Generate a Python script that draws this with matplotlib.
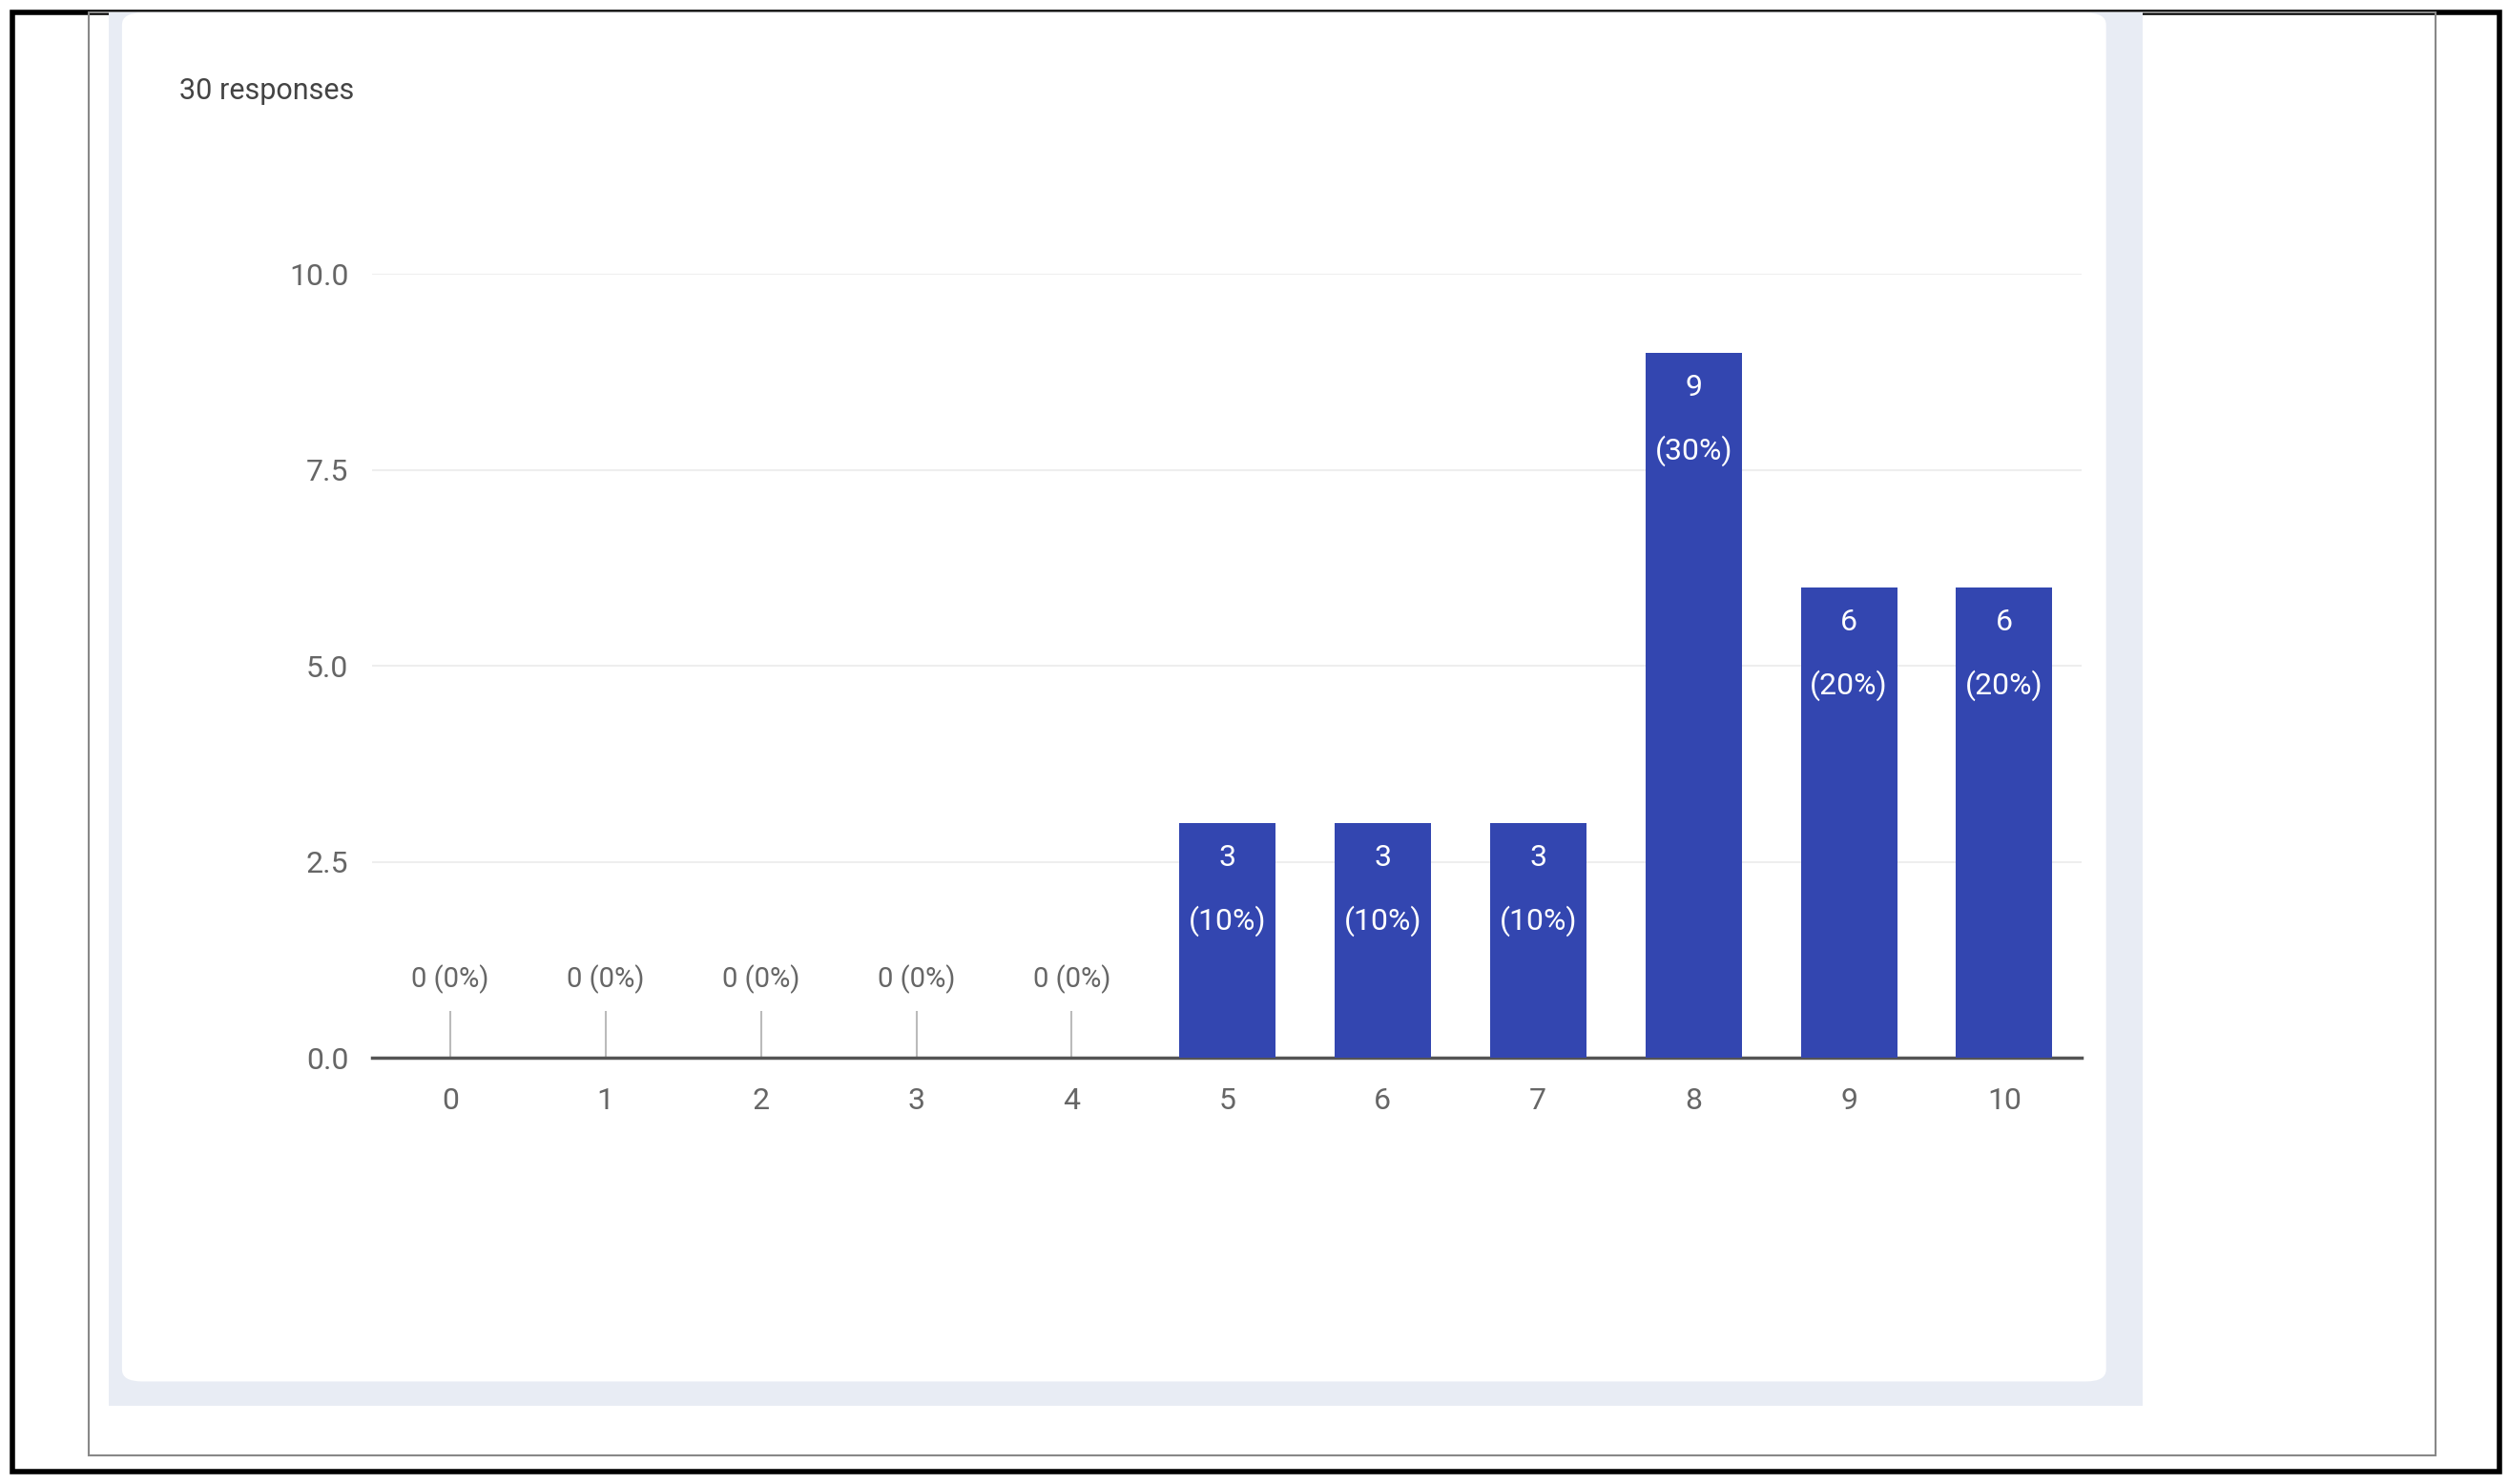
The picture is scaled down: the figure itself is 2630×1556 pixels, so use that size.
import matplotlib
matplotlib.use("Agg")
import matplotlib.pyplot as plt
from matplotlib.patches import Rectangle, FancyBboxPatch

# data
SCORES = [0, 1, 2, 3, 4, 5, 6, 7, 8, 9, 10]
COUNTS = [0, 0, 0, 0, 0, 3, 3, 3, 9, 6, 6]
TOTAL = 30
Y_TICKS = [0.0, 2.5, 5.0, 7.5, 10.0]

BAR_COLOR = "#3346b0"
TEXT_GRAY = "#666666"

plt.rcParams['font.family'] = ['Roboto', 'DejaVu Sans']

W, H = 1563.0, 926.0
fig = plt.figure(figsize=(26.3, 15.56), dpi=100)

def box(x0, y0, x1, y1, **kw):
  return Rectangle((x0 / W, 1 - y1 / H), (x1 - x0) / W, (y1 - y0) / H,
                   transform=fig.transFigure, **kw)

# frame decorations
fig.add_artist(box(8, 8, 1557, 918, fill=False, ec="black", lw=4))
fig.add_artist(box(55, 8, 1517, 908, fill=False, ec="#888888", lw=1.5))
fig.add_artist(box(68, 8, 1335, 877, fc="#e8ecf4", ec="none"))
fig.add_artist(FancyBboxPatch((76 / W, 1 - 862 / H), (1312 - 76) / W, (862 - 8) / H,
                              boxstyle="round,pad=0,rounding_size=0.008",
                              transform=fig.transFigure, fc="white", ec="none"))
fig.text(112 / W, 1 - 57 / H, f"{TOTAL} responses", fontsize=22, color="#444444", va="center")

ax = fig.add_axes([232 / W, 1 - 660 / H, (1297 - 232) / W, (660 - 171) / H])
ax.set_zorder(5)
ax.set_facecolor("none")
ax.bar(SCORES, COUNTS, width=0.62, color=BAR_COLOR, zorder=3)
ax.set_xlim(-0.5, 10.5)
ax.set_ylim(0, 10)
ax.set_yticks(Y_TICKS)
ax.set_yticklabels([f"{v:.1f}" for v in Y_TICKS])
ax.set_xticks(SCORES)
ax.grid(axis="y", color="#eeeeee", lw=1.5, zorder=0)
for s in ["top", "right", "left"]:
  ax.spines[s].set_visible(False)
ax.spines["bottom"].set_color("#555555")
ax.spines["bottom"].set_linewidth(2.5)
ax.tick_params(axis="both", length=0, labelsize=23, labelcolor=TEXT_GRAY)
ax.tick_params(axis="x", pad=22)
ax.tick_params(axis="y", pad=18)

for x, c in zip(SCORES, COUNTS):
  pct = round(100 * c / TOTAL)
  if c == 0:
    ax.vlines(x, 0, 0.6, color="#bbbbbb", lw=1.5, zorder=2)
    ax.text(x, 1.0, f"0 ({pct}%)", ha="center", va="center", fontsize=21, color=TEXT_GRAY)
  else:
    ax.text(x, c - 0.45, str(c), ha="center", va="center", fontsize=23, color="white", zorder=4)
    ax.text(x, c - 1.25, f"({pct}%)", ha="center", va="center", fontsize=23, color="white", zorder=4)

fig.savefig("out.png", dpi=100, facecolor="white")
